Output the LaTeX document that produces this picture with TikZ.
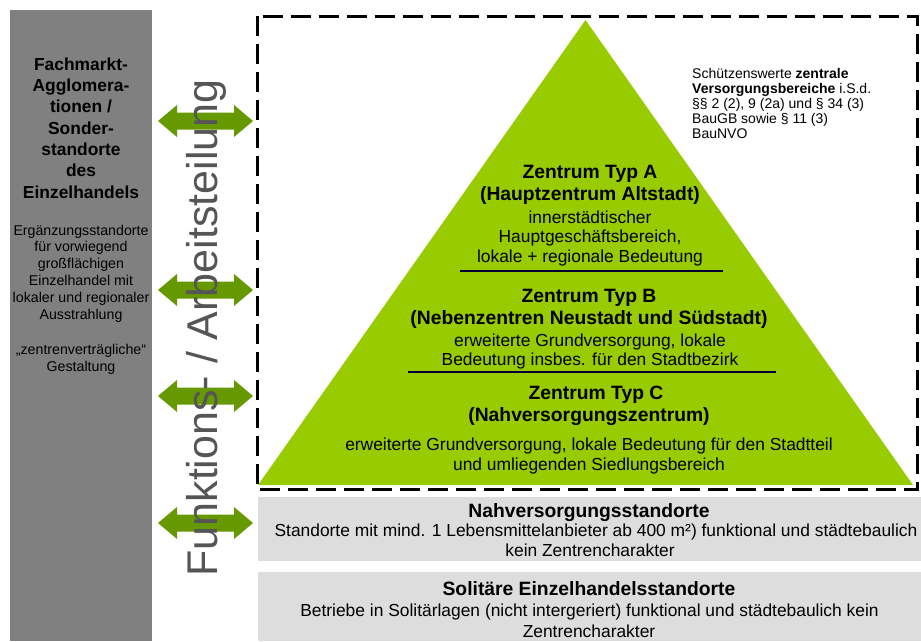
\documentclass[tikz,border=0pt]{standalone}
\usepackage{fontspec}
\setmainfont{Liberation Sans}
\definecolor{trigreen}{RGB}{153,204,0}
\definecolor{arrgreen}{RGB}{102,153,0}
\definecolor{barGray}{RGB}{128,128,128}
\definecolor{boxGray}{RGB}{221,221,221}
\definecolor{vtext}{RGB}{85,85,85}
\definecolor{sepline}{RGB}{0,0,51}
\begin{document}
\begin{tikzpicture}[x=1pt,y=-1pt,
  reg/.style={anchor=base,inner sep=0pt,font=\fontsize{17.4}{20}\selectfont},
  bld/.style={anchor=base,inner sep=0pt,font=\fontsize{19.3}{22}\selectfont\bfseries},
  lreg/.style={anchor=base,inner sep=0pt,font=\fontsize{14.2}{17}\selectfont},
  lbld/.style={anchor=base,inner sep=0pt,font=\fontsize{17.4}{21}\selectfont\bfseries},
  note/.style={anchor=base west,inner sep=0pt,font=\fontsize{14}{15}\selectfont},
  sep/.style={sepline,line width=1.2pt},
  darrow/.pic={\fill[arrgreen] (-47.5,0) -- (-28.5,-16) -- (-28.5,-8.5) -- (28.5,-8.5) -- (28.5,-16) -- (47.5,0) -- (28.5,16) -- (28.5,8.5) -- (-28.5,8.5) -- (-28.5,16) -- cycle;}
]
\useasboundingbox (0,0) rectangle (921,641);
\fill[white] (0,0) rectangle (921,641);
% left column
\fill[barGray] (10,10) rectangle (152,641);
% bottom boxes
\fill[boxGray] (258,497) rectangle (921,561);
\fill[boxGray] (258,572) rectangle (921,641);
% pyramid
\fill[trigreen] (585.5,20) -- (913,485) -- (258,485) -- cycle;
\draw[line width=3pt, dash pattern=on 20pt off 8pt] (257,16) rectangle (917,489);
\coordinate (s1a) at (460,271); \coordinate (s1b) at (723,271);
\coordinate (s2a) at (408,372); \coordinate (s2b) at (776,372);
\draw[sep] (s1a) -- (s1b);
\draw[sep] (s2a) -- (s2b);
% arrows
\pic at (205.5,121) {darrow};
\pic at (205.5,290) {darrow};
\pic at (205.5,396) {darrow};
\pic at (205.5,523) {darrow};
% vertical text
\node[rotate=90,anchor=base,inner sep=0pt,text=vtext,font=\fontsize{43}{43}\selectfont] (vt) at (217,328) {Funktions- / Arbeitsteilung};
% left column text
\node[lbld] (l1) at (81,70) {Fachmarkt-};
\node[lbld] (l2) at (81,91.3) {Agglomera-};
\node[lbld] (l3) at (81,112.7) {tionen /};
\node[lbld] (l4) at (81,134) {Sonder-};
\node[lbld] (l5) at (81,155.3) {standorte};
\node[lbld] (l6) at (81,176.7) {des};
\node[lbld] (l7) at (81,198) {Einzelhandels};
\node[lreg] (r1) at (81,235) {Ergänzungsstandorte};
\node[lreg] (r2) at (81,251) {für vorwiegend};
\node[lreg] (r3) at (81,268) {großflächigen};
\node[lreg] (r4) at (81,285) {Einzelhandel mit};
\node[lreg] (r5) at (81,302) {lokaler und regionaler};
\node[lreg] (r6) at (81,319) {Ausstrahlung};
\node[lreg] (r7) at (81,354) {„zentrenverträgliche“};
\node[lreg] (r8) at (81,371) {Gestaltung};
% note
\node[note] (n1) at (692,78) {Schützenswerte \textbf{zentrale}};
\node[note] (n2) at (692,93) {\textbf{Versorgungsbereiche} i.S.d.};
\node[note] (n3) at (692,108) {§§ 2 (2), 9 (2a) und § 34 (3)};
\node[note] (n4) at (692,123) {BauGB sowie § 11 (3)};
\node[note] (n5) at (692,138) {BauNVO};
% Typ A
\node[bld] (a1) at (590,178) {Zentrum Typ A};
\node[bld] (a2) at (590,200) {(Hauptzentrum Altstadt)};
\node[reg] (a3) at (590,223) {innerstädtischer};
\node[reg] (a4) at (590,242) {Hauptgeschäftsbereich,};
\node[reg] (a5) at (590,262) {lokale + regionale Bedeutung};
% Typ B
\node[bld] (b1) at (589,302) {Zentrum Typ B};
\node[bld] (b2) at (589,324.5) {(Nebenzentren Neustadt und Südstadt)};
\node[reg] (b3) at (590,346) {erweiterte Grundversorgung, lokale};
\node[reg] (b4) at (590,365) {Bedeutung insbes. für den Stadtbezirk};
% Typ C
\node[bld] (c1) at (596,399.5) {Zentrum Typ C};
\node[bld] (c2) at (589,421) {(Nahversorgungszentrum)};
\node[reg] (c3) at (589,450) {erweiterte Grundversorgung, lokale Bedeutung für den Stadtteil};
\node[reg] (c4) at (589,470) {und umliegenden Siedlungsbereich};
% Nahversorgungsstandorte
\node[bld] (d1) at (589,517) {Nahversorgungsstandorte};
\node[reg] (d2) at (596,536) {Standorte mit mind. 1 Lebensmittelanbieter ab 400 m²) funktional und städtebaulich};
\node[reg] (d3) at (590,556) {kein Zentrencharakter};
% Solitäre
\node[bld] (e1) at (589,595) {Solitäre Einzelhandelsstandorte};
\node[reg] (e2) at (589.5,616) {Betriebe in Solitärlagen (nicht intergeriert) funktional und städtebaulich kein};
\node[reg] (e3) at (589,637) {Zentrencharakter};
\end{tikzpicture}
\end{document}
